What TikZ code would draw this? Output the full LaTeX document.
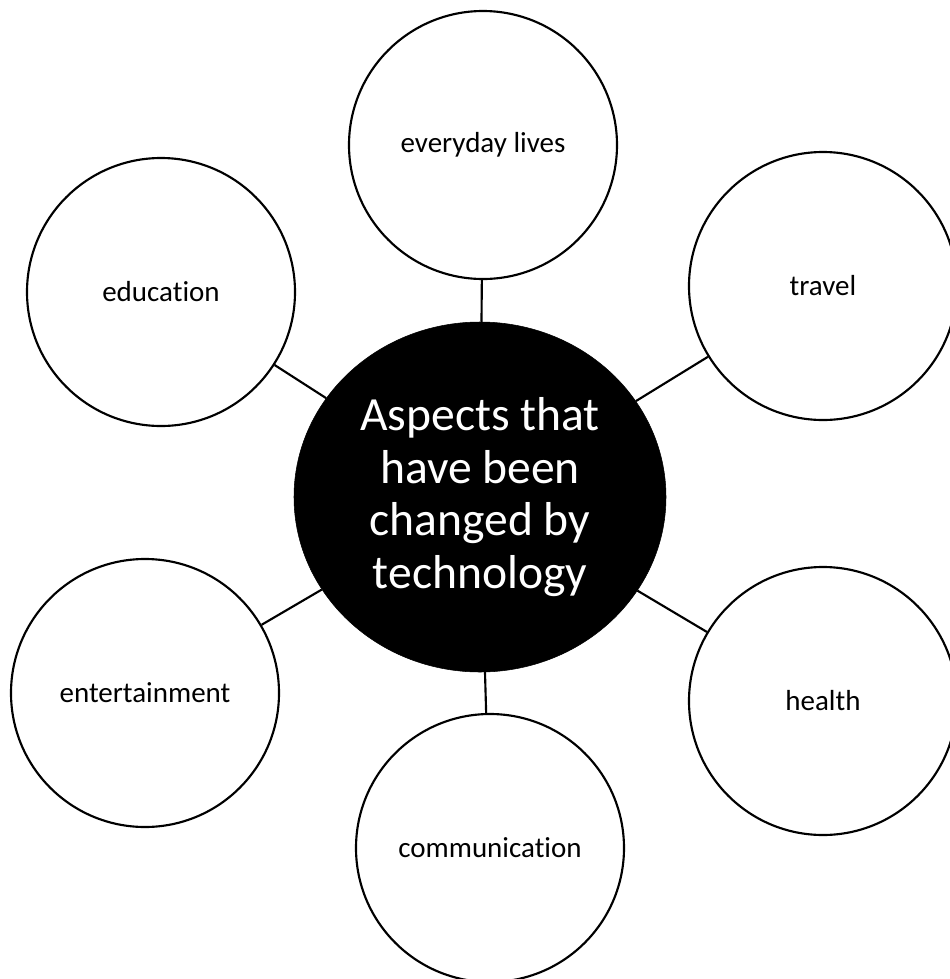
\documentclass[tikz,border=0pt]{standalone}
\usepackage{fontspec}
\setmainfont{Carlito}[Ligatures={NoCommon}]
\usetikzlibrary{shapes.geometric}
\tikzset{
  topic/.style={circle, draw=black, line width=1.6pt, fill=white, minimum size=201pt, inner sep=0pt,
    font=\fontsize{21.75pt}{26pt}\selectfont},
  hub/.style={ellipse, fill=black, draw=black, minimum width=279pt, minimum height=262.5pt, inner sep=0pt,
    text=white, align=center, font=\fontsize{35.7pt}{39.5pt}\selectfont},
  link/.style={draw=black, line width=1.6pt}
}
\begin{document}
\begin{tikzpicture}[x=0.75pt,y=-0.75pt]
\useasboundingbox (0,0) rectangle (950,979);
\node[hub] (c) at (480,497) {Aspects that\\have been\\changed by\\technology};
\node[topic] (ev) at (483,145) {everyday lives};
\node[topic] (tr) at (823,286) {travel};
\node[topic] (ed) at (161,292) {education};
\node[topic] (en) at (145,693) {entertainment};
\node[topic] (he) at (823,701) {health};
\node[topic] (co) at (490,848) {communication};
\draw[link] (ev) -- (c);
\draw[link] (tr) -- (c);
\draw[link] (ed) -- (c);
\draw[link] (en) -- (c);
\draw[link] (he) -- (c);
\draw[link] (co) -- (c);
\end{tikzpicture}
\end{document}
